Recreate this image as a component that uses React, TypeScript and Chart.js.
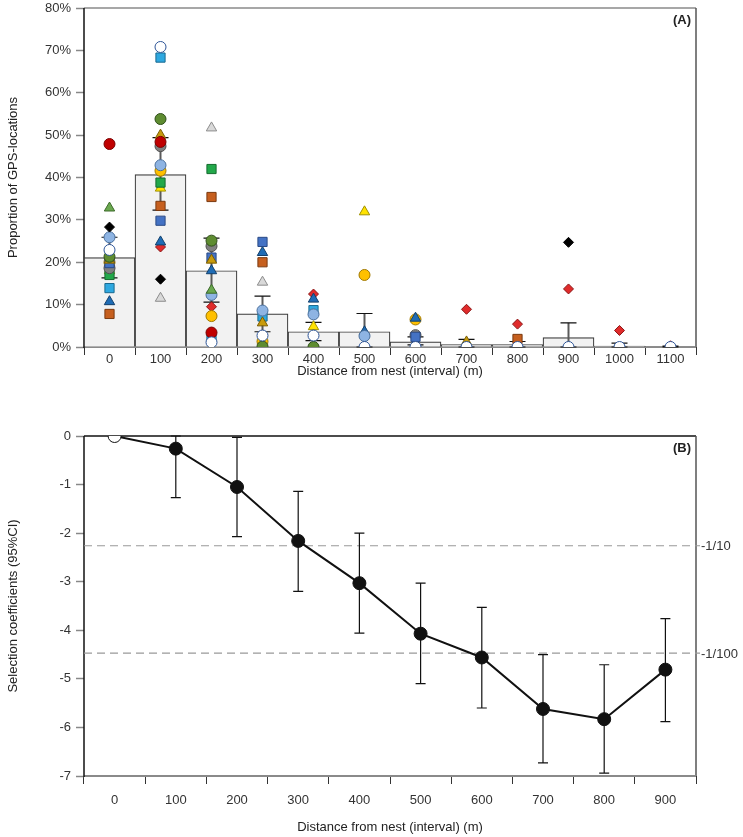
import React, { useEffect, useRef } from 'react';
import { Chart, registerables } from 'chart.js';
Chart.register(...registerables);

const FONT = "'Liberation Sans', Arial, Helvetica, sans-serif";

// ---------- Panel A data ----------
const distanceA = ['0', '100', '200', '300', '400', '500', '600', '700', '800', '900', '1000', '1100'];
const meanA = [21.1, 40.7, 18.0, 7.8, 3.6, 3.6, 1.2, 0.6, 0.6, 2.2, 0.2, 0.1];
const seLowA = [16.3, 32.3, 10.6, 3.6, 1.5, 0, 0.5, 0, 0, 0, 0, 0];
const seHighA = [25.9, 49.4, 25.7, 12.0, 5.8, 7.9, 2.4, 1.8, 1.3, 5.7, 0.9, 0.2];
const yTicksA = [0, 10, 20, 30, 40, 50, 60, 70, 80];

// individual birds (proportion of GPS locations per interval, %)
const whiteCircle = [22.9, 70.8, 1.1, 2.7, 2.7, 0, 0, 0, 0, 0, 0, 0];
const redCircle = [47.9, 48.4, 3.4, null, null, null, null, null, null, null, null, null];
const greenTriangle = [32.8, null, 13.4, null, null, null, null, null, null, null, null, null];
const blackDiamond = [28.3, 16.0, null, null, null, null, null, null, null, 24.7, null, null];
const lightBlueCircle = [25.9, 42.9, 12.3, 8.6, 7.7, 2.6, null, null, null, null, null, null];
const greenCircle = [21.3, 53.8, 25.1, 0.1, 0, null, null, null, null, null, null, null];
const goldTriangle = [20.5, 50.0, 20.5, 5.7, null, null, null, 1.2, null, null, null, null];
const blueSquare = [19.8, 29.8, 21.1, 24.8, null, null, 2.4, null, null, null, null, null];
const grayCircle = [18.6, 47.4, 23.8, null, null, null, 2.8, null, null, null, null, null];
const greenSquare = [17.0, 38.8, 42.0, null, null, null, null, null, null, null, null, null];
const cyanSquare = [13.9, 68.3, 2.0, 7.2, 8.7, null, null, null, null, null, null, null];
const blueTriangle = [10.7, 24.8, 18.0, 22.3, 11.3, 3.6, 6.8, null, null, null, null, null];
const orangeSquare = [7.8, 33.3, 35.4, 20.0, null, null, null, null, 1.9, null, null, null];
const yellowCircle = [20.0, 41.6, 7.3, 1.3, null, 17.0, 6.5, null, null, null, null, null];
const yellowTriangle = [18.0, 37.5, 0, null, 4.8, 31.9, null, null, null, null, null, null];
const redDiamond = [19.2, 23.6, 9.5, null, 12.5, null, null, 8.9, 5.4, 13.7, 3.9, 0.3];
const lightGrayTriangle = [19.5, 11.5, 51.7, 15.3, null, null, null, null, null, null, null, null];

// ---------- Panel B data ----------
const distanceB = ['0', '100', '200', '300', '400', '500', '600', '700', '800', '900'];
const selCoef = [0, -0.26, -1.05, -2.16, -3.03, -4.07, -4.56, -5.62, -5.83, -4.81];
const ciLow = [null, -1.27, -2.07, -3.2, -4.06, -5.1, -5.6, -6.73, -6.94, -5.88];
const ciHigh = [null, 0, -0.03, -1.14, -2.0, -3.03, -3.53, -4.5, -4.71, -3.76];
const refLevels = [-2.26, -4.47];
const refLabels = ['-1/10', '-1/100'];

type Bird = { data: (number | null)[]; style: string; bg: string; border: string; r: number };
const birds: Bird[] = [
  { data: whiteCircle, style: 'circle', bg: '#ffffff', border: '#2e5597', r: 5.5 },
  { data: redCircle, style: 'circle', bg: '#c00000', border: '#7a0000', r: 5.5 },
  { data: greenTriangle, style: 'triangle', bg: '#6aa84f', border: '#3d6b2a', r: 6 },
  { data: blackDiamond, style: 'rectRot', bg: '#000000', border: '#000000', r: 5 },
  { data: lightBlueCircle, style: 'circle', bg: '#8eb4e3', border: '#4a6f9c', r: 5.5 },
  { data: greenCircle, style: 'circle', bg: '#5e8c31', border: '#2f4f1a', r: 5.5 },
  { data: goldTriangle, style: 'triangle', bg: '#c89b0c', border: '#7a5c00', r: 6 },
  { data: blueSquare, style: 'rect', bg: '#4472c4', border: '#2a4a85', r: 6.5 },
  { data: grayCircle, style: 'circle', bg: '#808080', border: '#505050', r: 5.5 },
  { data: greenSquare, style: 'rect', bg: '#22a84a', border: '#146b2e', r: 6.5 },
  { data: cyanSquare, style: 'rect', bg: '#2ea8e0', border: '#1a6a90', r: 6.5 },
  { data: blueTriangle, style: 'triangle', bg: '#1f6cb5', border: '#123f6b', r: 6 },
  { data: orangeSquare, style: 'rect', bg: '#c65f1e', border: '#7a3a10', r: 6.5 },
  { data: yellowCircle, style: 'circle', bg: '#ffc000', border: '#a07800', r: 5.5 },
  { data: yellowTriangle, style: 'triangle', bg: '#ffe200', border: '#a09000', r: 6 },
  { data: redDiamond, style: 'rectRot', bg: '#e02b2b', border: '#8a1515', r: 5 },
  { data: lightGrayTriangle, style: 'triangle', bg: '#d9d9d9', border: '#8c8c8c', r: 6 },
];

const frame = (topColor: string, label: string) => ({
  id: 'frame',
  beforeDatasetsDraw(chart: any) {
    const { ctx, chartArea } = chart;
    const { left, right, top, bottom } = chartArea;
    ctx.save();
    ctx.lineWidth = 1.5;
    ctx.strokeStyle = topColor;
    ctx.beginPath(); ctx.moveTo(left, top); ctx.lineTo(right, top); ctx.stroke();
    ctx.strokeStyle = '#555';
    ctx.beginPath(); ctx.moveTo(right, top); ctx.lineTo(right, bottom); ctx.stroke();
    ctx.strokeStyle = '#8a8a8a';
    ctx.lineWidth = 2;
    ctx.beginPath(); ctx.moveTo(left, bottom); ctx.lineTo(right, bottom); ctx.stroke();
    ctx.strokeStyle = '#111';
    ctx.lineWidth = 1.5;
    ctx.beginPath(); ctx.moveTo(left, top); ctx.lineTo(left, bottom + 1); ctx.stroke();
    ctx.restore();
  },
  afterDraw(chart: any) {
    const { ctx, chartArea } = chart;
    ctx.save();
    ctx.font = `bold 13px ${FONT}`;
    ctx.fillStyle = '#222';
    ctx.textAlign = 'right';
    ctx.textBaseline = 'middle';
    ctx.fillText(label, chartArea.right - 5, chartArea.top + 12);
    ctx.restore();
  },
});

const errA = {
  id: 'errA',
  afterDatasetDraw(chart: any, args: any) {
    if (args.meta.type !== 'bar') return;
    const { ctx, scales } = chart;
    const x = scales.x, y = scales.y;
    ctx.save();
    meanA.forEach((_, i) => {
      const px = x.getPixelForValue(i);
      const yl = y.getPixelForValue(seLowA[i]);
      const yh = y.getPixelForValue(seHighA[i]);
      ctx.strokeStyle = '#5a5a5a';
      ctx.lineWidth = 2;
      ctx.beginPath(); ctx.moveTo(px, yl); ctx.lineTo(px, yh); ctx.stroke();
      ctx.strokeStyle = '#111';
      ctx.lineWidth = 1.2;
      ctx.beginPath();
      ctx.moveTo(px - 8, yh); ctx.lineTo(px + 8, yh);
      ctx.moveTo(px - 8, yl); ctx.lineTo(px + 8, yl);
      ctx.stroke();
    });
    ctx.restore();
  },
};

const errB = {
  id: 'errB',
  beforeDatasetsDraw(chart: any) {
    const { ctx, scales, chartArea } = chart;
    const x = scales.x, y = scales.y;
    ctx.save();
    // reference lines
    ctx.setLineDash([8, 5]);
    ctx.strokeStyle = '#999';
    ctx.lineWidth = 1.2;
    refLevels.forEach((lv) => {
      const py = y.getPixelForValue(lv);
      ctx.beginPath(); ctx.moveTo(chartArea.left, py); ctx.lineTo(chartArea.right + 4, py); ctx.stroke();
    });
    ctx.setLineDash([]);
    ctx.fillStyle = '#333';
    ctx.font = `13px ${FONT}`;
    ctx.textAlign = 'left';
    ctx.textBaseline = 'middle';
    refLevels.forEach((lv, k) => {
      const py = y.getPixelForValue(lv);
      ctx.fillText(refLabels[k], chartArea.right + 5, py + 1);
    });
    // confidence intervals
    ctx.strokeStyle = '#111';
    ctx.lineWidth = 1.2;
    selCoef.forEach((_, i) => {
      if (ciLow[i] === null || ciHigh[i] === null) return;
      const px = x.getPixelForValue(i);
      const yl = y.getPixelForValue(ciLow[i]);
      const yh = y.getPixelForValue(ciHigh[i]);
      ctx.beginPath();
      ctx.moveTo(px, yl); ctx.lineTo(px, yh);
      ctx.moveTo(px - 5, yl); ctx.lineTo(px + 5, yl);
      ctx.moveTo(px - 5, yh); ctx.lineTo(px + 5, yh);
      ctx.stroke();
    });
    ctx.restore();
  },
};

const HA = 382;
const HB = 455;
const W = 743;

export default function App() {
  const refA = useRef<HTMLCanvasElement>(null);
  const refB = useRef<HTMLCanvasElement>(null);

  useEffect(() => {
    Chart.defaults.font.family = FONT;
    Chart.defaults.color = '#333';

    const chartA = new Chart(refA.current!, {
      type: 'bar',
      data: {
        labels: distanceA,
        datasets: [
          {
            type: 'bar',
            data: meanA,
            backgroundColor: '#f2f2f2',
            borderColor: '#3a3a3a',
            borderWidth: 1.2,
            categoryPercentage: 1,
            barPercentage: 1,
            order: 10,
          } as any,
          ...birds.map((b) => ({
            type: 'line',
            data: b.data,
            showLine: false,
            pointStyle: b.style,
            pointRadius: b.r,
            pointBackgroundColor: b.bg,
            pointBorderColor: b.border,
            pointBorderWidth: 1,
            order: 0,
          } as any)),
        ],
      },
      options: {
        responsive: false,
        animation: false,
        layout: { padding: { top: 8, right: W - 696, left: 0, bottom: 0 } },
        plugins: { legend: { display: false }, tooltip: { enabled: false } },
        scales: {
          x: {
            offset: true,
            grid: { offset: true, drawOnChartArea: false, drawTicks: true, tickLength: 8, color: '#333', tickColor: '#333' },
            border: { display: false },
            ticks: { font: { size: 13 }, color: '#333', padding: -3, maxRotation: 0 },
            title: { display: true, text: 'Distance from nest (interval) (m)', font: { size: 13 }, color: '#222', padding: { top: 4, bottom: 3 } },
            afterFit: (s: any) => { s.height = HA - 347; s.paddingLeft = 0; s.paddingRight = 0; },
          },
          y: {
            min: 0,
            max: 80,
            afterBuildTicks: (s: any) => { s.ticks = yTicksA.map((v) => ({ value: v })); },
            grid: { drawOnChartArea: false, drawTicks: true, tickLength: 8, color: '#888', tickColor: '#888', tickWidth: 1.5 },
            border: { display: false },
            ticks: { font: { size: 13 }, color: '#333', padding: 5, callback: (v: any) => v + '%' },
            title: { display: true, text: 'Proportion of GPS-locations', font: { size: 13 }, color: '#222', padding: { top: 6, bottom: 4 } },
            afterFit: (s: any) => { s.width = 84; s.paddingTop = 0; s.paddingBottom = 0; },
          },
        },
      },
      plugins: [frame('#8a8a8a', '(A)'), errA],
    });

    const chartB = new Chart(refB.current!, {
      type: 'line',
      data: {
        labels: distanceB,
        datasets: [
          {
            data: selCoef,
            borderColor: '#111',
            borderWidth: 2,
            pointRadius: 6.5,
            pointBackgroundColor: selCoef.map((_, i) => (i === 0 ? '#ffffff' : '#111111')),
            pointBorderColor: '#111',
            pointBorderWidth: 1,
            tension: 0,
          },
        ],
      },
      options: {
        responsive: false,
        animation: false,
        layout: { padding: { top: 436 - HA, right: W - 696, left: 0, bottom: 0 } },
        plugins: { legend: { display: false }, tooltip: { enabled: false } },
        scales: {
          x: {
            offset: true,
            grid: { offset: true, drawOnChartArea: false, drawTicks: true, tickLength: 8, color: '#333', tickColor: '#333' },
            border: { display: false },
            ticks: { font: { size: 13 }, color: '#333', padding: 9, maxRotation: 0 },
            title: { display: true, text: 'Distance from nest (interval) (m)', font: { size: 13 }, color: '#222', padding: { top: 4, bottom: 2 } },
            afterFit: (s: any) => { s.height = HB - (776 - HA); s.paddingLeft = 0; s.paddingRight = 0; },
          },
          y: {
            min: -7,
            max: 0,
            ticks: { stepSize: 1, font: { size: 13 }, color: '#333', padding: 5 },
            grid: { drawOnChartArea: false, drawTicks: true, tickLength: 8, color: '#888', tickColor: '#888', tickWidth: 1.5 },
            border: { display: false },
            title: { display: true, text: 'Selection coefficients (95%CI)', font: { size: 13 }, color: '#222', padding: { top: 6, bottom: 4 } },
            afterFit: (s: any) => { s.width = 84; s.paddingTop = 0; s.paddingBottom = 0; },
          },
        },
      },
      plugins: [frame('#111', '(B)'), errB],
    });

    return () => {
      chartA.destroy();
      chartB.destroy();
    };
  }, []);

  return (
    <div style={{ position: 'absolute', left: 0, top: 0, width: W, height: HA + HB, background: '#fff' }}>
      <canvas ref={refA} width={W} height={HA} style={{ position: 'absolute', left: 0, top: 0, width: W, height: HA }} />
      <canvas ref={refB} width={W} height={HB} style={{ position: 'absolute', left: 0, top: HA, width: W, height: HB }} />
    </div>
  );
}
